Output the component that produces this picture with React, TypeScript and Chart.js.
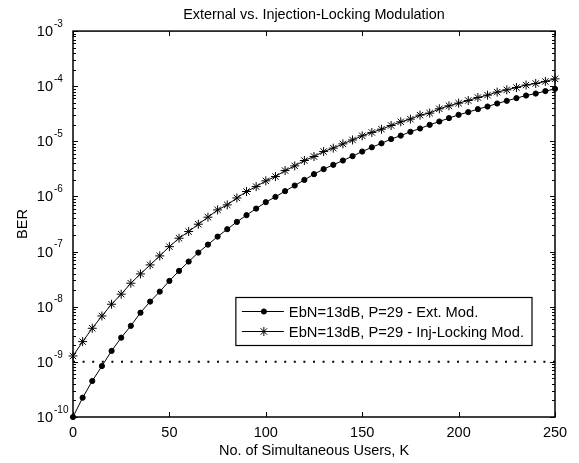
import React, { useEffect, useRef } from 'react';
import { Chart, registerables } from 'chart.js';

Chart.register(...registerables);

const users = [
  0, 5, 10, 15, 20, 25, 30, 35, 40, 45, 50, 55, 60, 65, 70, 75, 80, 85, 90, 95, 100,
  105, 110, 115, 120, 125, 130, 135, 140, 145, 150, 155, 160, 165, 170, 175, 180, 185,
  190, 195, 200, 205, 210, 215, 220, 225, 230, 235, 240, 245, 250,
];

const berExtMod = [
  1.0e-10, 2.24e-10, 4.5e-10, 8.4e-10, 1.58e-9, 2.75e-9, 4.5e-9, 7.8e-9, 1.24e-8, 1.88e-8,
  2.94e-8, 4.47e-8, 6.6e-8, 9.6e-8, 1.34e-7, 1.87e-7, 2.55e-7, 3.46e-7, 4.58e-7, 6.03e-7,
  7.88e-7, 9.84e-7, 1.25e-6, 1.58e-6, 2.0e-6, 2.54e-6, 3.13e-6, 3.75e-6, 4.49e-6, 5.39e-6,
  6.53e-6, 7.8e-6, 9.2e-6, 1.1e-5, 1.27e-5, 1.49e-5, 1.71e-5, 1.99e-5, 2.29e-5, 2.64e-5,
  3.03e-5, 3.39e-5, 3.84e-5, 4.28e-5, 4.86e-5, 5.43e-5, 6.08e-5, 6.78e-5, 7.36e-5, 8.15e-5,
  8.97e-5,
];

const berInjLock = [
  1.28e-9, 2.33e-9, 4.07e-9, 6.8e-9, 1.11e-8, 1.69e-8, 2.67e-8, 3.94e-8, 5.74e-8, 8.36e-8,
  1.23e-7, 1.75e-7, 2.31e-7, 3.14e-7, 4.21e-7, 5.71e-7, 7.04e-7, 9.4e-7, 1.23e-6, 1.51e-6,
  1.92e-6, 2.3e-6, 2.95e-6, 3.59e-6, 4.49e-6, 5.3e-6, 6.53e-6, 7.53e-6, 9.0e-6, 1.06e-5,
  1.26e-5, 1.45e-5, 1.66e-5, 1.94e-5, 2.26e-5, 2.53e-5, 2.99e-5, 3.25e-5, 3.89e-5, 4.41e-5,
  4.93e-5, 5.5e-5, 6.23e-5, 6.89e-5, 7.81e-5, 8.6e-5, 9.46e-5, 1.05e-4, 1.12e-4, 1.22e-4,
  1.36e-4,
];

const thresholdUsers = [0, 250];
const thresholdBer = [1e-9, 1e-9];

const xTicks = [0, 50, 100, 150, 200, 250];
const yDecades = [-10, -9, -8, -7, -6, -5, -4, -3];

const titleText = 'External vs. Injection-Locking Modulation';
const xLabel = 'No. of Simultaneous Users, K';
const yLabel = 'BER';
const legendLabels = ['EbN=13dB, P=29 - Ext. Mod.', 'EbN=13dB, P=29 - Inj-Locking Mod.'];

const FONT = '"Liberation Sans", Arial, Helvetica, sans-serif';

function drawMarker(ctx: CanvasRenderingContext2D, style: string, x: number, y: number, r: number) {
  ctx.beginPath();
  if (style === 'circle') {
    ctx.arc(x, y, r, 0, Math.PI * 2);
    ctx.fill();
    ctx.stroke();
  } else {
    const d = r * Math.cos(Math.PI / 4);
    ctx.moveTo(x - r, y); ctx.lineTo(x + r, y);
    ctx.moveTo(x, y - r); ctx.lineTo(x, y + r);
    ctx.moveTo(x - d, y - d); ctx.lineTo(x + d, y + d);
    ctx.moveTo(x - d, y + d); ctx.lineTo(x + d, y - d);
    ctx.stroke();
  }
}

const matlabAxes = {
  id: 'matlabAxes',
  afterDatasetsDraw(chart: any) {
    const { ctx, chartArea: a, scales } = chart;
    const xs = scales.x;
    const ys = scales.y;
    ctx.save();
    ctx.strokeStyle = '#000';
    ctx.fillStyle = '#000';
    ctx.lineWidth = 1;
    ctx.beginPath();
    xTicks.forEach((v) => {
      const px = Math.round(xs.getPixelForValue(v)) + 0.5;
      ctx.moveTo(px, a.bottom); ctx.lineTo(px, a.bottom - 5);
      ctx.moveTo(px, a.top); ctx.lineTo(px, a.top + 5);
    });
    yDecades.forEach((e, i) => {
      const py = Math.round(ys.getPixelForValue(Math.pow(10, e))) + 0.5;
      ctx.moveTo(a.left, py); ctx.lineTo(a.left + 5, py);
      ctx.moveTo(a.right, py); ctx.lineTo(a.right - 5, py);
      if (i < yDecades.length - 1) {
        for (let m = 2; m <= 9; m++) {
          const pm = Math.round(ys.getPixelForValue(m * Math.pow(10, e))) + 0.5;
          ctx.moveTo(a.left, pm); ctx.lineTo(a.left + 3, pm);
          ctx.moveTo(a.right, pm); ctx.lineTo(a.right - 3, pm);
        }
      }
    });
    ctx.stroke();

    ctx.lineWidth = 1.5;
    ctx.strokeRect(a.left, a.top, a.right - a.left, a.bottom - a.top);

    // y tick labels with superscript exponents
    yDecades.forEach((e) => {
      const py = ys.getPixelForValue(Math.pow(10, e));
      ctx.textBaseline = 'middle';
      ctx.font = '14.5px ' + FONT;
      ctx.textAlign = 'right';
      ctx.fillText('10', a.left - 20, py + 1);
      ctx.font = '10px ' + FONT;
      ctx.textAlign = 'left';
      ctx.fillText(String(e), a.left - 19, py - 7);
    });

    // legend
    const boxRight = a.right - 23;
    const boxTop = a.bottom - 119.5;
    ctx.font = '14.7px ' + FONT;
    let maxW = 0;
    legendLabels.forEach((t) => { maxW = Math.max(maxW, ctx.measureText(t).width); });
    const boxW = 53 + maxW + 8;
    const boxLeft = boxRight - boxW;
    const boxH = 48;
    ctx.fillStyle = '#fff';
    ctx.fillRect(boxLeft, boxTop, boxW, boxH);
    ctx.lineWidth = 1.2;
    ctx.strokeStyle = '#000';
    ctx.strokeRect(boxLeft, boxTop, boxW, boxH);
    ctx.fillStyle = '#000';
    legendLabels.forEach((t, i) => {
      const ds = chart.data.datasets[i];
      const ry = boxTop + 14 + i * 20;
      ctx.lineWidth = 1;
      ctx.beginPath();
      ctx.moveTo(boxLeft + 6, ry);
      ctx.lineTo(boxLeft + 48, ry);
      ctx.stroke();
      drawMarker(ctx, ds.pointStyle, boxLeft + 28, ry, ds.pointRadius);
      ctx.textAlign = 'left';
      ctx.textBaseline = 'middle';
      ctx.fillText(t, boxLeft + 53, ry + 1);
    });
    ctx.restore();
  },
};

export default function App() {
  const ref = useRef<HTMLCanvasElement | null>(null);

  useEffect(() => {
    if (!ref.current) return;
    Chart.defaults.font.family = FONT;
    Chart.defaults.color = '#000';
    const chart = new Chart(ref.current, {
      type: 'line',
      data: {
        datasets: [
          {
            label: legendLabels[0],
            data: users.map((u, i) => ({ x: u, y: berExtMod[i] })),
            borderColor: '#000',
            backgroundColor: '#000',
            borderWidth: 1,
            pointStyle: 'circle',
            pointRadius: 2.6,
            pointBackgroundColor: '#000',
            pointBorderColor: '#000',
            pointBorderWidth: 1,
            clip: false,
          },
          {
            label: legendLabels[1],
            data: users.map((u, i) => ({ x: u, y: berInjLock[i] })),
            borderColor: '#000',
            backgroundColor: '#000',
            borderWidth: 1,
            pointStyle: 'star',
            pointRadius: 4.5,
            pointBorderColor: '#000',
            pointBorderWidth: 1,
            clip: false,
          },
          {
            label: 'threshold',
            data: thresholdUsers.map((u, i) => ({ x: u, y: thresholdBer[i] })),
            borderColor: '#000',
            borderWidth: 2,
            borderDash: [2, 7.6],
            borderCapStyle: 'butt',
            pointRadius: 0,
            clip: false,
          },
        ],
      },
      options: {
        animation: false,
        responsive: false,
        devicePixelRatio: 1,
        layout: { padding: { left: 0, right: 24, top: 0, bottom: 0 } },
        plugins: {
          legend: { display: false },
          tooltip: { enabled: false },
          title: {
            display: true,
            text: titleText,
            fullSize: false,
            color: '#000',
            font: { size: 14.4, weight: 'normal', family: FONT },
            padding: { top: 6.4, bottom: 7.4 },
          },
        },
        scales: {
          x: {
            type: 'linear',
            min: 0,
            max: 250,
            grid: { display: false, drawTicks: false },
            border: { display: false },
            ticks: {
              stepSize: 50,
              padding: 7,
              color: '#000',
              font: { size: 14.5, family: FONT },
              maxRotation: 0,
            },
            title: {
              display: true,
              text: xLabel,
              color: '#000',
              font: { size: 14.5, family: FONT },
              padding: { top: 0, bottom: 3.4 },
            },
            afterFit: (s: any) => { s.height = 46; },
          },
          y: {
            type: 'logarithmic',
            min: 1e-10,
            max: 1e-3,
            grid: { display: false, drawTicks: false },
            border: { display: false },
            ticks: { display: false },
            title: {
              display: true,
              text: yLabel,
              color: '#000',
              font: { size: 14.5, family: FONT },
              padding: { top: 14.4, bottom: 0 },
            },
            afterFit: (s: any) => { s.width = 73; },
          },
        },
      },
      plugins: [matlabAxes],
    } as any);
    return () => chart.destroy();
  }, []);

  return (
    <div style={{ position: 'absolute', left: 0, top: 0, width: 579, height: 463, background: '#fff' }}>
      <canvas ref={ref} width={579} height={463} style={{ display: 'block' }} />
    </div>
  );
}
